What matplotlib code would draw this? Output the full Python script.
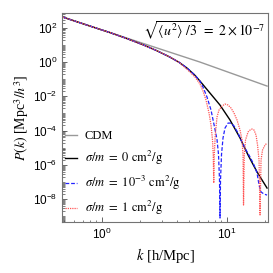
import matplotlib
matplotlib.use("Agg")
import matplotlib.pyplot as plt
import matplotlib.ticker as mticker
import numpy as np

plt.rcParams["font.family"] = ["Liberation Serif", "DejaVu Serif"]
plt.rcParams["mathtext.fontset"] = "stix"

# CDM reference spectrum
k_cdm = [0.488, 1.0, 2.0, 4.0, 6.08, 10.0, 14.0, 20.9]
p_cdm = [417, 74.8, 14.3, 2.72, 1.0, 0.273, 0.1135, 0.0398]

# sigma/m = 0
k_s0 = [0.488, 0.794, 1.159, 1.585, 2.128, 2.754, 3.499, 4.169, 4.786, 5.495,
        6.081, 7.311, 8.79, 10.57, 12.71, 14.72, 17.38, 20.89]
p_s0 = [417, 129, 52.5, 23.4, 10.2, 4.57, 1.95, 0.933, 0.447, 0.180,
        0.0776, 0.0155, 3.09e-3, 4.17e-4, 3.72e-5, 3.80e-6, 3.89e-7, 4.47e-8]

# sigma/m = 1e-3 (log10 k, log10 P after the split from the black curve)
logk_s3 = [0.784, 0.808, 0.84, 0.872, 0.896, 0.92, 0.932, 0.94, 0.944, 0.948,
           0.956, 0.968, 0.984, 1.008, 1.032, 1.056, 1.088, 1.12, 1.152, 1.184,
           1.216, 1.24, 1.256, 1.272, 1.296, 1.32]
logp_s3 = [-1.108, -1.458, -2.041, -2.799, -3.644, -4.52, -5.39, -6.88, -9.1, -6.88,
           -5.39, -4.43, -3.85, -3.56, -3.56, -3.73, -4.14, -4.66, -5.13, -5.54,
           -6.01, -6.47, -7.17, -7.58, -7.70, -7.76]

# sigma/m = 1
logk_s1 = [0.704, 0.744, 0.784, 0.808, 0.832, 0.856, 0.872, 0.884, 0.890, 0.894,
           0.898, 0.906, 0.92, 0.936, 0.96, 0.984, 1.008, 1.032, 1.056, 1.08,
           1.104, 1.12, 1.128, 1.132, 1.138, 1.148, 1.168, 1.184, 1.2, 1.216,
           1.232, 1.244, 1.256, 1.264, 1.272, 1.284, 1.304, 1.32]
logp_s1 = [-0.583, -0.875, -1.283, -1.691, -2.216, -2.974, -3.673, -4.548, -5.423, -7.055,
           -5.423, -4.257, -3.207, -2.799, -2.566, -2.449, -2.507, -2.682, -2.974, -3.382,
           -3.965, -4.548, -5.423, -8.34, -5.423, -4.548, -4.082, -3.965, -3.907, -3.965,
           -4.257, -4.839, -5.714, -8.92, -5.714, -5.131, -4.839, -4.723]

# low-k part shared with the black curve
k_low = k_s0[:9]
p_low = p_s0[:9]

k_s3 = k_low + [5.495] + list(10 ** np.array(logk_s3))
p_s3 = p_low + [0.180] + list(10 ** np.array(logp_s3))
k_s1 = k_low[:-1] + list(10 ** np.array(logk_s1))
p_s1 = p_low[:-1] + list(10 ** np.array(logp_s1))

fig = plt.figure(figsize=(2.73, 2.73), dpi=100)
ax = fig.add_axes([0.227, 0.187, 0.755, 0.765])

ax.plot(k_cdm, p_cdm, color="#999999", lw=1.0, label="CDM")
ax.plot(k_s0, p_s0, color="black", lw=1.0, label=r"$\sigma/m\ =\ 0\ \mathrm{cm^2/g}$")
ax.plot(k_s3, p_s3, color="#2222ff", lw=0.9, ls=(0, (3, 1.5)),
        label=r"$\sigma/m\ =\ 10^{-3}\ \mathrm{cm^2/g}$")
ax.plot(k_s1, p_s1, color="#ff5555", lw=0.9, ls=(0, (1, 0.8)),
        label=r"$\sigma/m\ =\ 1\ \mathrm{cm^2/g}$")

ax.set_xscale("log")
ax.set_yscale("log")
ax.set_xlim(0.479, 21.3)
ax.set_ylim(4.7e-10, 719)

ax.yaxis.set_major_locator(mticker.FixedLocator([1e-8, 1e-6, 1e-4, 1e-2, 1, 1e2]))
ax.yaxis.set_minor_locator(mticker.LogLocator(base=10, subs=np.arange(1, 10), numticks=30))
ax.yaxis.set_minor_formatter(mticker.NullFormatter())
ax.tick_params(which="both", direction="in", top=False, right=False,
               labelsize=8.5, labelfontfamily="Liberation Sans", color="0.3")
ax.tick_params(which="major", length=3.5, width=0.6)
ax.tick_params(which="minor", length=1.8, width=0.5)
for sp in ax.spines.values():
    sp.set_color("0.45")
    sp.set_linewidth(0.8)

ax.set_xlabel(r"$k$ [h/Mpc]", fontsize=10.5, labelpad=3)
ax.set_ylabel(r"$P(k)$ [Mpc$^3/h^3$]", fontsize=10, labelpad=1)

ax.text(0.985, 0.915, r"$\sqrt{\langle u^2\rangle\ /3}\ =\ 2\times10^{-7}$",
        transform=ax.transAxes, ha="right", va="center", fontsize=10)

ax.legend(loc="lower left", bbox_to_anchor=(-0.01, 0.0), frameon=False,
          fontsize=9, handlelength=1.0, handletextpad=0.6, labelspacing=0.55,
          borderaxespad=0.0)

fig.savefig("out.png", dpi=100)
